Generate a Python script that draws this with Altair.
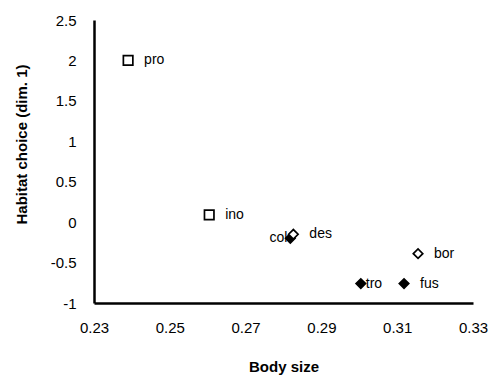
import altair as alt
import pandas as pd

names = ["pro", "ino", "col", "des", "bor", "tro", "fus"]
body_size = [0.239, 0.2604, 0.2818, 0.2826, 0.3155, 0.3004, 0.3118]
habitat = [2.0, 0.09, -0.2, -0.15, -0.39, -0.76, -0.76]
kind = ["open square", "open square", "filled diamond", "open diamond",
        "open diamond", "filled diamond", "filled diamond"]
x_ticks = [0.23, 0.25, 0.27, 0.29, 0.31, 0.33]
y_ticks = [-1, -0.5, 0, 0.5, 1, 1.5, 2, 2.5]

df = pd.DataFrame({"name": names, "size": body_size, "hab": habitat, "kind": kind})
df["order"] = range(len(df))

FONT = "Liberation Sans"

x = alt.X("size:Q", scale=alt.Scale(domain=[0.23, 0.33], nice=False, zero=False),
          axis=alt.Axis(values=x_ticks, labelExpr="format(datum.value, '.2f')",
                        title="Body size", grid=False, ticks=False, domainColor="black",
                        labelFlush=False, labelPadding=17, titlePadding=24))
y = alt.Y("hab:Q", scale=alt.Scale(domain=[-1, 2.5], nice=False, zero=False),
          axis=alt.Axis(values=y_ticks, labelExpr="datum.value + ''",
                        title="Habitat choice (dim. 1)", grid=False, ticks=False,
                        labelFlush=False, domainColor="black", labelPadding=18,
                        titlePadding=21, titleY=124))

points = alt.Chart(df).mark_point(size=90, strokeWidth=1.7, opacity=1).encode(
    x=x, y=y,
    shape=alt.Shape("kind:N", scale=alt.Scale(
        domain=["open square", "open diamond", "filled diamond"],
        range=["square", "diamond", "diamond"]), legend=None),
    fill=alt.Fill("kind:N", scale=alt.Scale(
        domain=["open square", "open diamond", "filled diamond"],
        range=["white", "white", "black"]), legend=None),
    color=alt.value("black"),
    order=alt.Order("order:Q"),
)

base_text = dict(fontSize=14, font=FONT, baseline="middle", color="black")
labels_main = alt.Chart(df).transform_filter(
    "datum.name != 'col' && datum.name != 'tro'"
).mark_text(align="left", dx=16, **base_text).encode(x="size:Q", y="hab:Q", text="name:N")
labels_tro = alt.Chart(df).transform_filter("datum.name == 'tro'").mark_text(
    align="left", dx=5, **base_text).encode(x="size:Q", y="hab:Q", text="name:N")
labels_col = alt.Chart(df).transform_filter("datum.name == 'col'").mark_text(
    align="right", dx=-3, **base_text).encode(x="size:Q", y="hab:Q", text="name:N")

chart = alt.layer(points, labels_main, labels_tro, labels_col).properties(
    width=379, height=283,
    autosize=alt.AutoSizeParams(type="none"),
    padding={"left": 94, "top": 20, "right": 18, "bottom": 75},
).configure_view(stroke=None).configure_axis(
    labelFont=FONT, labelFontSize=15, labelColor="black",
    titleFont=FONT, titleFontSize=15, titleFontWeight="bold", titleColor="black",
).configure_axisX(domainWidth=2.5).configure_axisY(domainWidth=2.5)

chart.save("out.html", embed_options={"renderer": "svg", "actions": False})
